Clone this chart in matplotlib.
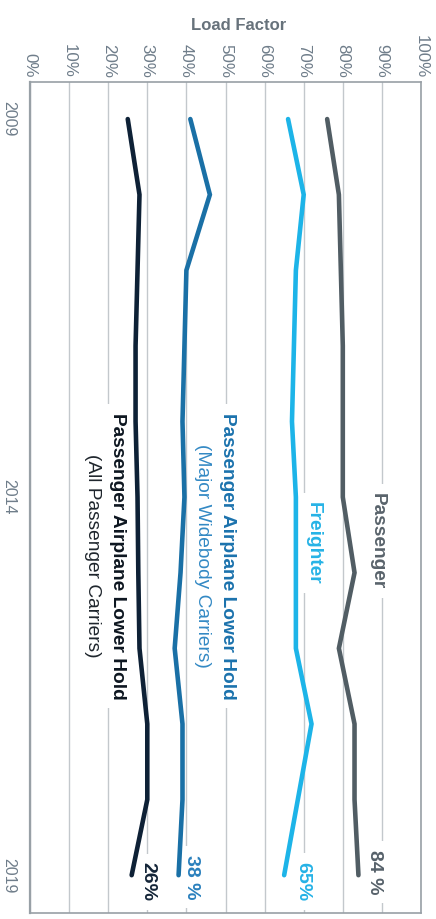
import matplotlib
matplotlib.use("Agg")
import matplotlib.pyplot as plt

# Load factor by year (%)
years = [2009, 2010, 2011, 2012, 2013, 2014, 2015, 2016, 2017, 2018, 2019]
passenger = [76, 79, 79.5, 80, 80, 80, 83, 79, 83, 83, 84]
freighter = [66, 70, 68, 67.5, 67, 68, 68, 68, 72, 68.5, 65]
lower_hold_widebody = [41, 46, 40, 39.5, 39, 39.5, 38.5, 37, 39, 39, 38]
lower_hold_all = [25, 28, 27.5, 27, 27, 27.5, 27.7, 28, 30, 30, 26]

pct_ticks = [0, 10, 20, 30, 40, 50, 60, 70, 80, 90, 100]
pct_labels = [f"{p}%" for p in pct_ticks]
year_ticks = [2009, 2014, 2019]

plt.rcParams["font.family"] = ["Liberation Sans", "DejaVu Sans"]

C_PASS = "#515d64"
C_FREI = "#1db4e8"
C_WIDE = "#1a70a6"
C_ALL = "#0e2136"
GRID = "#c3c8cc"
SPINE = "#98a0a6"
TICK = "#6f7d8a"

fig = plt.figure(figsize=(4.36, 9.19), dpi=100)
ax = fig.add_axes([30 / 436, 6 / 919, 391 / 436, 831 / 919])

ax.set_xlim(0, 100)
ax.set_ylim(2019.5, 2008.51)

series = [
    (passenger, C_PASS),
    (freighter, C_FREI),
    (lower_hold_widebody, C_WIDE),
    (lower_hold_all, C_ALL),
]
for vals, col in series:
    ax.plot(vals, years, color=col, lw=3.3, solid_capstyle="round",
            solid_joinstyle="miter", zorder=4)

# axes styling
ax.xaxis.tick_top()
ax.set_xticks(pct_ticks)
ax.set_xticklabels(pct_labels, rotation=-90, fontsize=12.2, color=TICK)
ax.tick_params(axis="x", length=0, pad=3)
ax.set_yticks(year_ticks)
ax.set_yticklabels([str(y) for y in year_ticks], rotation=-90, fontsize=11.5,
                   color=TICK, va="center")
ax.tick_params(axis="y", length=0, pad=10)
ax.grid(axis="x", color=GRID, lw=1.0, zorder=0)
ax.grid(axis="y", visible=False)
ax.set_axisbelow(True)
for s in ax.spines.values():
    s.set_color(SPINE)
    s.set_linewidth(1.2)
ax.spines["left"].set_linewidth(1.6)

fig.text(239 / 436, 1 - 25 / 919, "Load Factor", ha="center", va="center",
         fontsize=12, fontweight="bold", color="#67727b")

box = dict(boxstyle="square,pad=0.45", fc="white", ec="none")

def label(x, y, s, color, bold=True, size=14, bbox=True):
    ax.text(x, y, s, rotation=-90, ha="center", va="center", fontsize=size,
            fontweight="bold" if bold else "normal", color=color,
            bbox=box if bbox else None, zorder=3)

# series names
label(88.7, 2014.58, "Passenger", "#59636b", size=13.8)
label(72.4, 2014.61, "Freighter", "#27b3e6", size=13.8)
label(50.4, 2014.78, "Passenger Airplane Lower Hold", "#1b72ad", size=13.8)
label(44.0, 2014.78, "(Major Widebody Carriers)", "#3389c4", bold=False,
      size=13.8, bbox=False)
label(22.3, 2014.78, "Passenger Airplane Lower Hold", "#0d1620", size=13.8)
label(15.9, 2014.78, "(All Passenger Carriers)", "#1e252c", bold=False,
      size=13.8, bbox=False)

# end values
label(88.0, 2018.96, f"{passenger[-1]} %", "#56616a", size=14)
label(69.8, 2019.08, f"{freighter[-1]}%", "#25b2e6", size=14)
label(41.4, 2019.03, f"{lower_hold_widebody[-1]} %", "#2a80bd", size=14)
label(30.2, 2019.09, f"{lower_hold_all[-1]}%", "#142538", size=14)

fig.savefig("out.png", dpi=100)
